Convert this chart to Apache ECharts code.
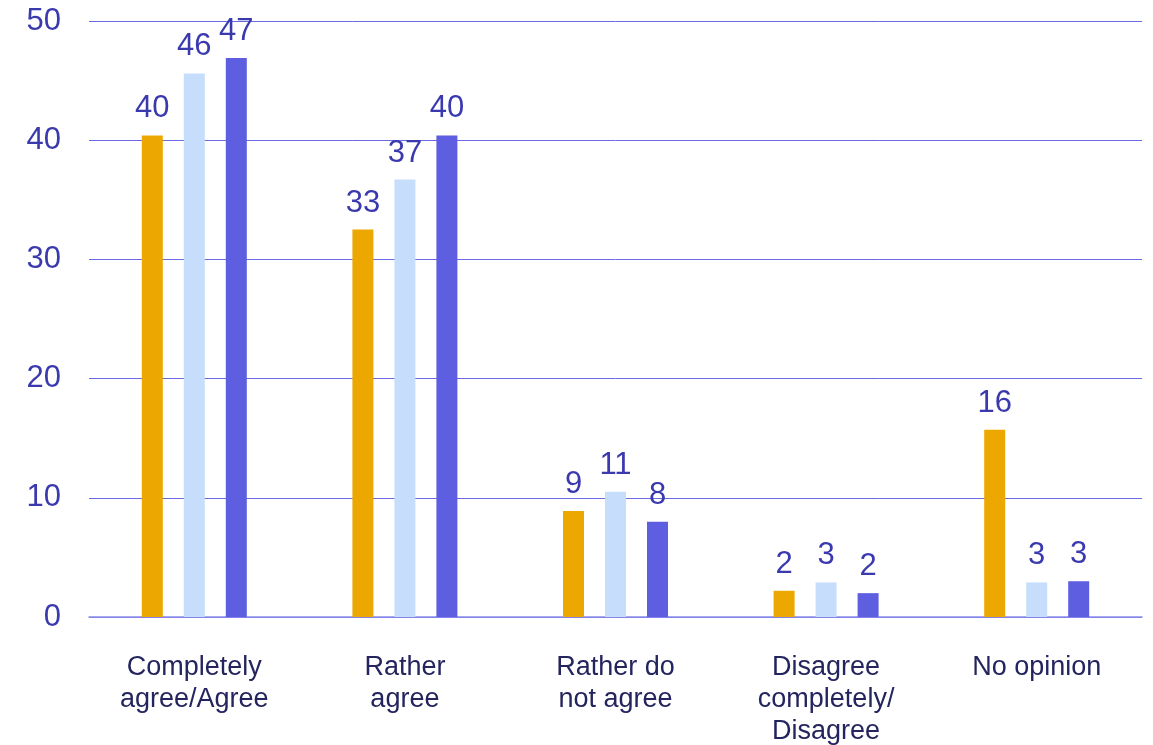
<!DOCTYPE html>
<html>
<head>
<meta charset="utf-8">
<script src="https://cdn.jsdelivr.net/npm/echarts@6/dist/echarts.min.js"></script>
<style>
  html, body { margin: 0; padding: 0; background: #ffffff; }
  #chart { width: 1153px; height: 745px; }
</style>
</head>
<body>
<div id="chart"></div>
<script>
// Survey answer categories
const categories = [
  'Completely\nagree/Agree',
  'Rather\nagree',
  'Rather do\nnot agree',
  'Disagree\ncompletely/\nDisagree',
  'No opinion'
];

// Shares (%) for the three survey waves
const seriesA = [40.4, 32.5, 8.9, 2.2, 15.7];
const seriesB = [45.6, 36.7, 10.5, 2.9, 2.9];
const seriesC = [46.9, 40.4, 8.0, 2.0, 3.0];

const yTicks = { min: 0, max: 50, interval: 10 };

const valueColor = '#3a3aae';
const labelFont = 'Liberation Sans, Arial, sans-serif';

function barSeries(name, data, color) {
  return {
    name: name,
    type: 'bar',
    data: data,
    barWidth: 21,
    barGap: '100%',
    itemStyle: { color: color },
    label: {
      show: true,
      position: 'top',
      distance: 11,
      color: valueColor,
      fontFamily: labelFont,
      fontSize: 31,
      formatter: p => Math.round(p.value)
    }
  };
}

const chart = echarts.init(document.getElementById('chart'), null, { renderer: 'canvas' });
chart.setOption({
  animation: false,
  backgroundColor: '#ffffff',
  grid: { left: 89, right: 11, top: 21, bottom: 128, containLabel: false, outerBoundsMode: 'none' },
  xAxis: {
    type: 'category',
    data: categories,
    axisLine: { show: true, lineStyle: { color: '#8c8ced', width: 1.5 } },
    axisTick: { show: false },
    axisLabel: {
      color: '#24245e',
      fontFamily: labelFont,
      fontSize: 27,
      lineHeight: 32,
      margin: 35,
      interval: 0
    }
  },
  yAxis: {
    type: 'value',
    min: yTicks.min,
    max: yTicks.max,
    interval: yTicks.interval,
    axisLine: { show: false },
    axisTick: { show: false },
    splitLine: { lineStyle: { color: '#6a6ae2', width: 1 } },
    axisLabel: {
      color: valueColor,
      fontFamily: labelFont,
      fontSize: 31,
      margin: 28
    }
  },
  series: [
    barSeries('A', seriesA, '#eca800'),
    barSeries('B', seriesB, '#c6defc'),
    barSeries('C', seriesC, '#5e5ee0')
  ]
});
</script>
</body>
</html>
